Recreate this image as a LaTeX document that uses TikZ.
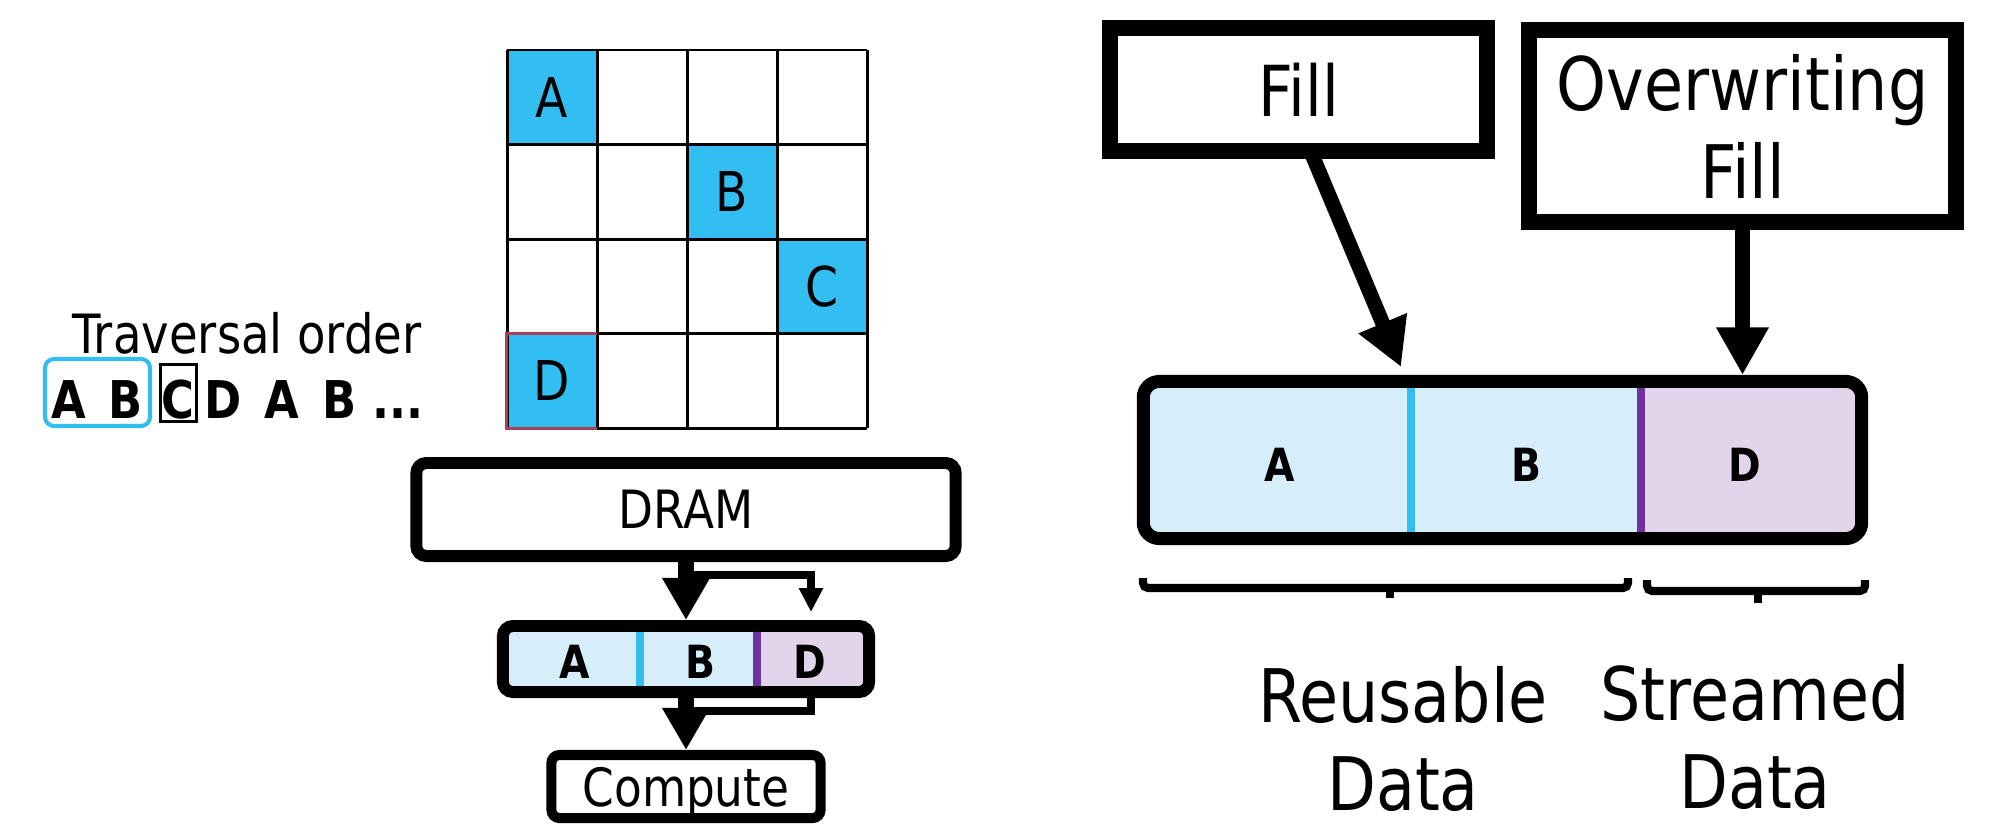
\documentclass[tikz,border=0pt]{standalone}
\usepackage{fontspec}
\setmainfont[FakeStretch=0.86]{DejaVu Sans}
\usepackage{xcolor}
\usepackage{tikz}
\usetikzlibrary{arrows.meta}
\usetikzlibrary{calc}
\definecolor{tilecyan}{RGB}{50,190,240}
\definecolor{reusefill}{RGB}{214,238,250}
\definecolor{streamfill}{RGB}{226,213,235}
\definecolor{streamline}{RGB}{112,48,160}
\definecolor{tileedge}{RGB}{165,65,85}
\tikzset{
  gridline/.style={line width=0.85pt},
  tile/.style={fill=tilecyan, minimum width=0.9cm, minimum height=0.945cm, inner sep=0pt, outer sep=0pt, font=\fontsize{15.6}{18}\selectfont},
  seqletter/.style={anchor=base, inner sep=0pt, font=\fontsize{14.8}{18}\selectfont\bfseries},
  midtext/.style={inner sep=0pt, font=\fontsize{15}{18}\selectfont},
  memblock/.style={draw, line width=3.4pt, rounded corners=1mm, inner sep=0pt},
  fillblock/.style={draw, line width=4.5pt, inner sep=0pt, align=center, font=\fontsize{21}{25}\selectfont},
  slotletter/.style={inner sep=0pt, font=\fontsize{13}{15}\selectfont\bfseries},
  bigarrow/.style={line width=4.3pt, -{Triangle[length=12pt, width=12.8pt]}},
  thinarrow/.style={line width=2pt, -{Triangle[length=6.8pt, width=6.5pt]}},
  fillarrow/.style={line width=4.2pt, -{Triangle[length=13.5pt, width=14pt]}},
  bracket/.style={line width=2.3pt, rounded corners=0.5mm},
}
\begin{document}
\begin{tikzpicture}[x=0.01cm, y=-0.01cm]
\useasboundingbox (0,0) rectangle (1991,827);
\node[tile] (tileA) at (552,97.25) {A};
\node[tile] (tileB) at (732,191.75) {B};
\node[tile] (tileC) at (822,286.25) {C};
\node[tile] (tileD) at (552,380.75) {D};
\foreach \i in {0,...,4} {
  \draw[gridline] (507+\i*90,50) -- (507+\i*90,428);
  \draw[gridline] (507,50+\i*94.5) -- (867,50+\i*94.5);
}
\draw[gridline, tileedge] (tileD.north east) -- (tileD.north west) -- (tileD.south west) -- (tileD.south east);

\node[anchor=base, inner sep=0pt, font=\fontsize{15.4}{18}\selectfont] (order) at (247,353) {Traversal order};
\node[seqletter] (seqA) at (69,418) {A};
\node[seqletter] (seqB) at (126,418) {B};
\node[seqletter] (seqC) at (178,418) {C};
\node[seqletter] (seqD) at (223,418) {D};
\node[seqletter] (seqA2) at (282,418) {A};
\node[seqletter] (seqB2) at (340,418) {B};
\node[seqletter] (seqDots) at (398,418) {...};
\draw[tilecyan, line width=1.15pt, rounded corners=0.9mm] (45,359) rectangle (150,426);
\draw[line width=0.85pt] (160.5,364.5) rectangle (196.5,421.5);

\node[memblock, midtext, minimum width=5.39cm, minimum height=0.93cm] (dram) at (686,509.5) {DRAM};
\fill[reusefill] (503,626) rectangle (757,692);
\fill[streamfill] (757,626) rectangle (869,692);
\draw[tilecyan, line width=2.2pt] (640,626) -- (640,692);
\draw[streamline, line width=2.2pt] (757,626) -- (757,692);
\node[memblock, minimum width=3.66cm, minimum height=0.66cm] (cache) at (686,659) {};
\node[slotletter] (cacheA) at (575,662) {A};
\node[slotletter] (cacheB) at (700,662) {B};
\node[slotletter] (cacheD) at (810,662) {D};
\node[memblock, midtext, line width=2.85pt, rounded corners=0.8mm, minimum width=2.69cm, minimum height=0.63cm, text depth=0pt] (compute) at (686,786.5) {Compute};
\coordinate (split) at (686,575);
\coordinate (slotIn) at (811,612);
\coordinate (merge) at (686,711);
\draw[bigarrow] (dram) -- (cache);
\draw[thinarrow] (split) -| (slotIn);
\draw[bigarrow] (cache) -- (compute);
\draw[line width=2pt] (cache.south -| slotIn) |- (merge);

\node[fillblock, font=\fontsize{20}{25}\selectfont, minimum width=3.77cm, minimum height=1.23cm] (fill) at (1298.5,89.5) {Fill};
\node[fillblock, minimum width=4.27cm, minimum height=1.92cm] (overwrite) at (1742.5,126) {Overwriting\\Fill};
\fill[reusefill] (1145.5,383.5) rectangle (1641,536.5);
\fill[streamfill] (1641,383.5) rectangle (1859.5,536.5);
\draw[tilecyan, line width=2.4pt] (1411,381.5) -- (1411,538.5);
\draw[streamline, line width=2.2pt] (1641,381.5) -- (1641,538.5);
\node[memblock, line width=3.7pt, rounded corners=1.6mm, minimum width=7.18cm, minimum height=1.57cm] (buffer) at (1502.5,460) {};
\node[slotletter] (bufA) at (1280,465) {A};
\node[slotletter] (bufB) at (1526,465) {B};
\node[slotletter] (bufD) at (1745,465) {D};
\coordinate (reuseIn) at (1401,367);
\draw[fillarrow] ($(fill.south)+(12,-8)$) -- (reuseIn);
\draw[fillarrow] (overwrite) -- (overwrite |- buffer.north);

\draw[bracket] (1143,578) -- (1143,588) -- (1628,588) -- (1628,578);
\draw[bracket] (1390,588) -- (1390,598);
\draw[bracket] (1647,580) -- (1647,591) -- (1865,591) -- (1865,580);
\draw[bracket] (1758,591) -- (1758,603);
\node[anchor=north, inner sep=0pt, align=center, font=\fontsize{21}{25}\selectfont] (reusable) at (1403,666) {Reusable\\Data};
\node[anchor=north, inner sep=0pt, align=center, font=\fontsize{21}{25}\selectfont] (streamed) at (1755,664) {Streamed\\Data};
\end{tikzpicture}
\end{document}
